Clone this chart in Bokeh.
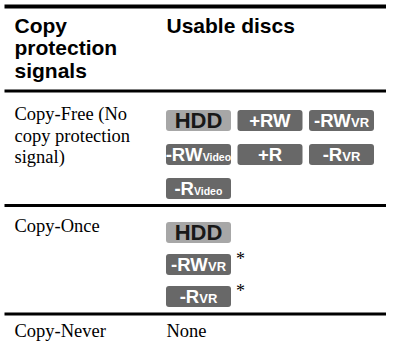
from bokeh.plotting import figure
from bokeh.models import Range1d
from bokeh.embed import file_html
from bokeh.resources import INLINE
from bokeh.core.properties import value

# ---- table content ----
header_left = ["Copy", "protection", "signals"]
header_right = "Usable discs"
signal_labels = [["Copy-Free (No", "copy protection", "signal)"], ["Copy-Once"], ["Copy-Never"]]
free_main = ["HDD", "+RW", "-RW", "-RW", "+R", "-R", "-R"]
free_sub = ["", "", "VR", "Video", "", "VR", "Video"]
once_main = ["HDD", "-RW", "-R"]
once_sub = ["", "VR", "VR"]
once_note = ["", "*", "*"]
never_text = "None"

# ---- layout / style ----
FIG_W, FIG_H = 386, 341
SANS = "Liberation Sans"
SERIF = "Liberation Serif"
HDR_SIZE = 21
SERIF_SIZE = 18.5
MAIN_SIZE = 18.5
HDD_SIZE = 22
SUB_SIZE = {"VR": 13, "Video": 10.5, "": 12}
BADGE_W, BADGE_H = 65, 21
COL_X = [165.5, 237, 308.5]
LEFT_X = 14
DISC_X = 166
RULE_Y = [90.5, 205, 313.5]
FREE_ROW0, FREE_PITCH = 120, 34
ONCE_ROW0, ONCE_PITCH = 232, 32
ROW_BASE = [120, 232, 336.5]

# Liberation Sans Bold advance widths (1/1000 em)
BW = {'-': 333, '+': 584, 'R': 722, 'W': 944, 'V': 667, 'H': 722, 'D': 722,
      'i': 278, 'd': 611, 'e': 556, 'o': 611}

def tw(s, size):
    return sum(BW.get(c, 600) for c in s) * size / 1000.0

def mid(baseline, size):
    return baseline - 0.35 * size

p = figure(width=FIG_W, height=FIG_H, output_backend="svg", toolbar_location=None,
           x_range=Range1d(0, FIG_W), y_range=Range1d(FIG_H, 0),
           x_axis_location=None, y_axis_location=None,
           min_border=0, outline_line_color=None)
p.grid.visible = False
p.background_fill_color = "white"
p.border_fill_color = "white"

# rules
p.segment(x0=[4], y0=[6], x1=[FIG_W], y1=[6], line_color="black", line_width=4)
p.segment(x0=[4] * 3, y0=RULE_Y, x1=[FIG_W] * 3, y1=RULE_Y,
          line_color="black", line_width=3.2)

# header
p.text(x=[LEFT_X] * 3, y=[mid(32 + 22.5 * i, HDR_SIZE) for i in range(3)], text=header_left,
       text_font=value(SANS), text_font_style="bold", text_font_size=f"{HDR_SIZE}px",
       text_color="black", text_baseline="middle")
p.text(x=[DISC_X], y=[mid(32, HDR_SIZE)], text=[header_right],
       text_font=value(SANS), text_font_style="bold", text_font_size=f"{HDR_SIZE}px",
       text_color="black", text_baseline="middle")

# left column labels
for lines, b in zip(signal_labels, ROW_BASE):
    p.text(x=[LEFT_X] * len(lines), y=[mid(b + 21.5 * i, SERIF_SIZE) for i in range(len(lines))],
           text=lines, text_font=value(SERIF), text_font_size=f"{SERIF_SIZE}px",
           text_color="black", text_baseline="middle")

p.text(x=[DISC_X], y=[mid(ROW_BASE[2], SERIF_SIZE)], text=[never_text], text_font=value(SERIF),
       text_font_size=f"{SERIF_SIZE}px", text_color="black", text_baseline="middle")


def badges(centers, mains, subs):
    for (cx, cy), m, s in zip(centers, mains, subs):
        hdd = (m == "HDD")
        fill = "#a7a7a7" if hdd else "#686868"
        tcol = "#181818" if hdd else "white"
        msize = HDD_SIZE if hdd else MAIN_SIZE
        ssize = SUB_SIZE[s]
        p.quad(left=[cx - BADGE_W / 2], right=[cx + BADGE_W / 2],
               top=[cy - BADGE_H / 2], bottom=[cy + BADGE_H / 2],
               fill_color=fill, line_color=None, border_radius=3)
        total = tw(m, msize) + tw(s, ssize)
        x0 = cx - total / 2
        base = cy + 0.716 * msize / 2
        p.text(x=[x0], y=[mid(base, msize)], text=[m], text_font=value(SANS), text_font_style="bold",
               text_font_size=f"{msize}px", text_color=tcol, text_baseline="middle")
        if s:
            p.text(x=[x0 + tw(m, msize)], y=[mid(base, ssize)], text=[s], text_font=value(SANS),
                   text_font_style="bold", text_font_size=f"{ssize}px",
                   text_color=tcol, text_baseline="middle")

# copy-free discs: 3 per row
free_centers = [(COL_X[i % 3] + BADGE_W / 2, FREE_ROW0 + FREE_PITCH * (i // 3))
                for i in range(len(free_main))]
badges(free_centers, free_main, free_sub)

# copy-once discs: one per row
once_centers = [(COL_X[0] + BADGE_W / 2, ONCE_ROW0 + ONCE_PITCH * i) for i in range(len(once_main))]
badges(once_centers, once_main, once_sub)
for (cx, cy), n in zip(once_centers, once_note):
    if n:
        p.text(x=[cx + BADGE_W / 2 + 5], y=[mid(cy + 1, 18)], text=[n], text_font=value(SERIF),
               text_font_size="18px", text_color="black", text_baseline="middle")

open("out.html", "w").write(file_html(p, INLINE))
